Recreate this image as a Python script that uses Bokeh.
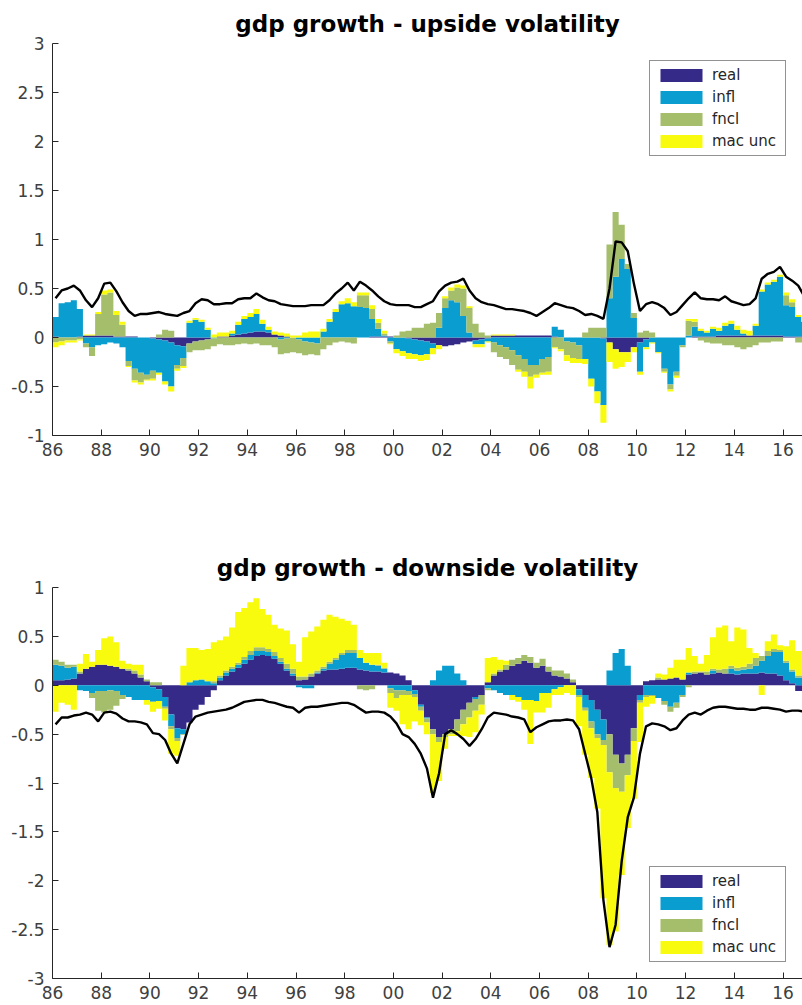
import numpy as np
from bokeh.plotting import figure
from bokeh.layouts import column
from bokeh.models import Range1d, FixedTicker, Legend, LegendItem
from bokeh.embed import file_html
from bokeh.resources import INLINE

# ---------------- data (quarterly, 1986Q1 .. 2016Q4) ----------------
start_year = 1986
n_years = 31

series_names = ["real", "infl", "fncl", "mac unc"]
series_colors = ["#352A87", "#0A9DCF", "#A5BE6B", "#F9FB0E"]

# upside volatility contributions: (real, infl, fncl, mac unc) per quarter
up_real = [0.01, 0.00, 0.00, 0.00,  0.01, 0.02, 0.02, 0.02,  0.02, 0.02, 0.01, 0.01,
           0.01, 0.01, 0.00, 0.00,  -0.01, -0.02, -0.03, -0.05,  -0.08, -0.09, -0.06, -0.04,
           -0.03, -0.02, 0.00, 0.01,  0.01, 0.02, 0.03, 0.04,  0.05, 0.06, 0.06, 0.05,
           0.03, 0.02, 0.01, 0.00,  0.00, 0.00, 0.00, 0.00,  0.00, 0.00, 0.00, 0.00,
           0.00, 0.00, 0.00, 0.00,  0.01, 0.01, 0.01, 0.01,  0.00, 0.00, -0.01, -0.02,
           -0.03, -0.04, -0.06, -0.08,  -0.09, -0.08, -0.07, -0.05,  -0.04, -0.03, -0.02, -0.01,
           0.02, 0.02, 0.02, 0.02,  0.02, 0.02, 0.02, 0.02,  0.02, 0.02, 0.01, 0.00,
           0.00, 0.00, 0.00, 0.00,  0.00, 0.00, -0.01, -0.05,  -0.12, -0.15, -0.15, -0.10,
           -0.05, -0.02, 0.00, 0.00,  0.00, 0.00, 0.00, 0.00,  0.00, 0.01, 0.01, 0.01,
           0.01, 0.02, 0.02, 0.02,  0.02, 0.02, 0.02, 0.02,  0.02, 0.02, 0.02, 0.02,
           0.01, 0.01, 0.01, 0.01]
up_infl = [0.20, 0.35, 0.36, 0.38,  0.28, -0.06, -0.10, -0.08,  -0.07, -0.05, -0.06, -0.10,
           -0.24, -0.32, -0.36, -0.38,  -0.33, -0.34, -0.42, -0.45,  -0.20, -0.12, 0.15, 0.18,
           0.16, 0.08, -0.01, 0.00,  0.00, 0.02, 0.10, 0.15,  0.16, 0.18, 0.08, 0.03,
           0.00, -0.02, -0.01, 0.00,  -0.02, -0.04, -0.05, -0.06,  0.06, 0.16, 0.26, 0.34,
           0.35, 0.32, 0.31, 0.30,  0.18, 0.08, 0.01, -0.04,  -0.12, -0.14, -0.15, -0.15,
           -0.15, -0.13, -0.05, 0.10,  0.30, 0.38, 0.36, 0.22,  0.05, -0.04, -0.05, -0.03,
           -0.05, -0.08, -0.10, -0.13,  -0.18, -0.22, -0.28, -0.28,  -0.22, -0.20, 0.10, 0.08,
           -0.04, -0.05, -0.08, -0.22,  -0.42, -0.55, -0.68, 0.40,  0.62, 0.80, 0.70, 0.20,
           -0.30, -0.08, -0.05, -0.15,  -0.32, -0.48, -0.35, -0.08,  0.02, 0.10, 0.06, 0.04,
           0.08, 0.05, 0.10, 0.12,  0.06, 0.02, 0.00, 0.10,  0.45, 0.52, 0.55, 0.60,
           0.32, 0.30, 0.20, 0.15]
up_fncl = [-0.05, -0.04, -0.03, -0.03,  -0.02, -0.04, -0.09, 0.22,  0.42, 0.44, 0.22, 0.12,
           -0.05, -0.12, -0.10, -0.05,  -0.08, 0.03, 0.08, 0.07,  -0.04, -0.08, -0.09, -0.09,
           -0.10, -0.10, -0.08, -0.07,  -0.08, -0.08, -0.07, -0.06,  -0.07, -0.06, -0.08, -0.08,
           -0.10, -0.15, -0.15, -0.15,  -0.14, -0.14, -0.12, -0.12,  -0.12, -0.08, -0.05, -0.04,
           -0.05, -0.06, 0.12, 0.13,  0.10, 0.06, 0.02, -0.02,  0.02, 0.06, 0.07, 0.10,
           0.10, 0.14, 0.15, 0.15,  0.10, 0.10, 0.15, 0.28,  0.25, 0.14, 0.05, 0.02,
           -0.10, -0.12, -0.12, -0.15,  -0.15, -0.13, -0.12, -0.10,  -0.14, -0.15, -0.10, -0.12,
           -0.14, -0.16, -0.14, 0.05,  0.10, 0.10, 0.10, 0.55,  0.66, 0.35, 0.05, 0.05,
           0.05, 0.07, 0.05, 0.00,  -0.03, -0.05, -0.04, -0.02,  0.15, 0.05, -0.03, -0.05,
           -0.06, -0.06, -0.08, -0.08,  -0.10, -0.12, -0.10, -0.08,  -0.05, -0.05, -0.04, -0.04,
           0.10, 0.05, -0.05, -0.05]
up_mac = [-0.05, -0.04, -0.02, -0.02,  -0.01, 0.01, 0.01, 0.02,  0.04, 0.03, 0.04, 0.03,
          -0.01, -0.02, -0.02, -0.01,  -0.02, -0.02, -0.03, -0.05,  -0.02, -0.02, 0.02, 0.02,
          0.02, 0.02, 0.03, 0.04,  0.04, 0.03, 0.03, 0.03,  0.04, 0.05, 0.04, 0.03,
          0.03, 0.03, 0.03, 0.02,  0.02, 0.05, 0.06, 0.06,  0.03, 0.03, 0.03, 0.03,
          0.05, 0.04, 0.03, 0.03,  0.04, 0.04, 0.03, -0.01,  -0.04, -0.05, -0.06, -0.05,
          -0.06, -0.06, -0.06, -0.04,  0.02, 0.03, 0.03, 0.03,  0.02, -0.03, -0.03, -0.01,
          0.01, 0.01, 0.01, 0.01,  -0.02, -0.05, -0.12, -0.03,  -0.02, -0.03, -0.01, -0.02,
          -0.06, -0.05, -0.04, -0.05,  -0.08, -0.12, -0.18, -0.20,  -0.20, -0.15, -0.10, -0.05,
          -0.03, -0.02, -0.01, -0.01,  -0.01, -0.02, -0.02, 0.00,  0.02, 0.03, 0.02, 0.02,
          0.02, 0.03, 0.03, 0.03,  0.04, 0.04, 0.05, 0.02,  0.02, 0.02, 0.02, 0.02,
          0.03, 0.03, 0.02, 0.02]
up_total = [0.40, 0.48, 0.50, 0.53,  0.48, 0.38, 0.31, 0.40,  0.55, 0.56, 0.47, 0.36,
            0.27, 0.22, 0.24, 0.24,  0.25, 0.26, 0.24, 0.23,  0.22, 0.25, 0.27, 0.35,
            0.39, 0.38, 0.34, 0.34,  0.35, 0.35, 0.39, 0.40,  0.40, 0.45, 0.41, 0.38,
            0.37, 0.34, 0.33, 0.32,  0.32, 0.32, 0.33, 0.33,  0.33, 0.38, 0.45, 0.50,
            0.56, 0.48, 0.57, 0.53,  0.48, 0.42, 0.37, 0.34,  0.33, 0.33, 0.33, 0.31,
            0.31, 0.34, 0.37, 0.47,  0.53, 0.56, 0.57, 0.60,  0.48, 0.40, 0.36, 0.34,
            0.33, 0.31, 0.29, 0.29,  0.28, 0.27, 0.25, 0.22,  0.26, 0.30, 0.35, 0.33,
            0.31, 0.30, 0.27, 0.23,  0.24, 0.22, 0.19, 0.50,  0.98, 0.97, 0.88, 0.55,
            0.27, 0.34, 0.36, 0.34,  0.30, 0.23, 0.26, 0.33,  0.40, 0.46, 0.40, 0.39,
            0.39, 0.38, 0.42, 0.37,  0.35, 0.33, 0.34, 0.40,  0.60, 0.65, 0.67, 0.72,
            0.62, 0.58, 0.53, 0.42]

# downside volatility contributions
dn_real = [0.05, 0.05, 0.06, 0.07,  0.12, 0.17, 0.19, 0.21,  0.21, 0.20, 0.19, 0.17,
           0.15, 0.12, 0.08, 0.04,  -0.02, -0.04, -0.12, -0.30,  -0.44, -0.45, -0.38, -0.25,
           -0.20, -0.12, -0.05, 0.05,  0.10, 0.14, 0.18, 0.22,  0.26, 0.30, 0.31, 0.30,
           0.27, 0.22, 0.15, 0.10,  0.05, 0.06, 0.09, 0.12,  0.15, 0.16, 0.16, 0.17,
           0.18, 0.18, 0.16, 0.15,  0.14, 0.14, 0.13, 0.13,  0.12, 0.10, 0.05, -0.05,
           -0.20, -0.33, -0.45, -0.53,  -0.50, -0.45, -0.35, -0.25,  -0.18, -0.12, -0.10, 0.03,
           0.10, 0.14, 0.16, 0.20,  0.22, 0.25, 0.23, 0.18,  0.20, 0.14, 0.10, 0.09,
           0.07, 0.03, -0.04, -0.10,  -0.15, -0.25, -0.35, -0.50,  -0.71, -0.80, -0.71, -0.44,
           -0.10, 0.04, 0.05, 0.06,  0.06, 0.07, 0.08, 0.06,  0.11, 0.12, 0.13, 0.11,
           0.12, 0.13, 0.12, 0.12,  0.11, 0.12, 0.12, 0.12,  0.13, 0.12, 0.12, 0.10,
           0.05, 0.02, -0.06, -0.06]
dn_infl = [0.16, 0.15, 0.12, 0.12,  -0.05, -0.06, -0.08, -0.06,  -0.06, -0.05, -0.06, -0.10,
           -0.12, -0.15, -0.15, -0.15,  -0.15, -0.12, -0.10, -0.12,  -0.10, -0.05, 0.03, 0.05,
           0.06, 0.04, 0.02, 0.03,  0.03, 0.03, 0.03, 0.04,  0.05, 0.05, 0.04, 0.04,
           0.03, 0.02, 0.02, 0.02,  -0.02, -0.03, -0.03, 0.01,  0.02, 0.06, 0.10, 0.14,
           0.15, 0.15, 0.12, 0.08,  0.07, 0.06, 0.04, -0.03,  -0.05, -0.05, -0.06, -0.04,
           -0.02, -0.01, 0.05, 0.15,  0.20, 0.20, 0.12, 0.05,  0.00, -0.02, 0.00, -0.03,
           -0.05, -0.08, -0.10, -0.10,  -0.12, -0.15, -0.15, -0.16,  -0.08, -0.08, -0.04, -0.02,
           0.00, 0.00, -0.06, -0.13,  -0.22, -0.25, -0.21, 0.15,  0.33, 0.37, 0.20, 0.00,
           -0.05, -0.10, -0.10, -0.13,  -0.16, -0.22, -0.18, -0.10,  0.02, 0.00, 0.00, 0.00,
           0.03, 0.00, 0.00, 0.05,  0.04, 0.04, 0.05, 0.08,  0.12, 0.18, 0.22, 0.24,
           0.18, 0.12, 0.08, 0.08]
dn_fncl = [0.05, 0.04, 0.03, 0.02,  0.02, 0.00, -0.05, -0.20,  -0.22, -0.20, -0.15, -0.04,
           0.02, 0.03, 0.03, 0.02,  0.03, 0.03, -0.02, -0.03,  -0.03, -0.01, 0.00, 0.00,
           0.00, 0.00, 0.02, 0.02,  0.02, 0.02, 0.02, 0.03,  0.04, 0.04, 0.04, 0.03,
           0.04, 0.04, 0.05, 0.05,  0.04, 0.03, 0.03, 0.02,  0.02, 0.02, 0.02, 0.02,
           0.03, 0.03, -0.04, -0.05,  -0.04, 0.01, 0.01, -0.05,  -0.08, -0.05, -0.04, -0.03,
           -0.04, -0.04, -0.05, -0.05,  -0.03, -0.05, -0.12, -0.15,  -0.15, -0.12, -0.10, -0.02,
           0.02, 0.02, 0.05, 0.06,  0.06, 0.06, 0.06, 0.05,  0.07, 0.05, 0.05, 0.06,
           0.05, 0.03, -0.02, -0.03,  -0.07, -0.04, -0.05, -0.39,  -0.34, -0.29, -0.21, -0.13,
           -0.03, -0.02, -0.01, 0.02,  -0.04, -0.05, -0.05, -0.02,  -0.02, 0.02, 0.01, 0.03,
           0.02, 0.03, 0.05, 0.03,  0.03, 0.03, 0.05, 0.08,  0.05, 0.05, 0.03, 0.02,
           0.02, 0.02, 0.02, 0.02]
dn_mac = [-0.27, -0.18, -0.20, -0.25,  0.08, 0.15, 0.05, 0.15,  0.27, 0.30, 0.25, 0.08,
          0.05, 0.06, 0.10, -0.05,  -0.10, -0.08, -0.12, -0.25,  -0.15, 0.20, 0.35, 0.33,
          0.30, 0.33, 0.40, 0.36,  0.35, 0.40, 0.52, 0.50,  0.50, 0.50, 0.39, 0.35,
          0.28, 0.30, 0.34, 0.25,  0.15, 0.40, 0.43, 0.45,  0.48, 0.48, 0.42, 0.35,
          0.30, 0.26, 0.08, 0.10,  0.12, 0.12, 0.05, -0.15,  -0.13, -0.30, -0.35, -0.25,
          -0.15, -0.12, -0.60, -0.40,  -0.12, -0.02, -0.05, -0.12,  -0.20, -0.22, -0.10, 0.25,
          0.17, 0.10, 0.04, -0.05,  -0.05, -0.10, -0.45, -0.12,  -0.20, -0.15, -0.06, -0.08,
          -0.08, -0.10, -0.30, -0.45,  -0.51, -0.72, -1.57, -1.77,  -1.47, -0.85, -0.54, -0.59,
          -0.40, -0.10, -0.08, 0.04,  0.05, 0.11, 0.18, 0.20,  0.25, 0.16, 0.08, 0.17,
          0.32, 0.43, 0.44, 0.25,  0.41, 0.38, 0.16, 0.05,  -0.10, 0.10, 0.15, 0.05,
          0.15, 0.30, 0.25, 0.25]
dn_total = [-0.40, -0.33, -0.33, -0.31,  -0.30, -0.28, -0.30, -0.37,  -0.28, -0.27, -0.29, -0.34,
            -0.37, -0.37, -0.38, -0.40,  -0.49, -0.50, -0.56, -0.70,  -0.80, -0.60, -0.40, -0.32,
            -0.30, -0.28, -0.27, -0.26,  -0.25, -0.23, -0.20, -0.17,  -0.16, -0.15, -0.15, -0.17,
            -0.18, -0.20, -0.22, -0.23,  -0.28, -0.23, -0.22, -0.22,  -0.21, -0.20, -0.19, -0.18,
            -0.18, -0.20, -0.24, -0.28,  -0.27, -0.27, -0.28, -0.32,  -0.39, -0.50, -0.53, -0.60,
            -0.70, -0.85, -1.15, -0.90,  -0.50, -0.46, -0.50, -0.55,  -0.62, -0.55, -0.45, -0.33,
            -0.28, -0.29, -0.30, -0.32,  -0.33, -0.35, -0.48, -0.43,  -0.40, -0.37, -0.36, -0.36,
            -0.35, -0.36, -0.45, -0.70,  -0.95, -1.30, -2.20, -2.68,  -2.45, -1.80, -1.35, -1.15,
            -0.70, -0.42, -0.39, -0.40,  -0.42, -0.46, -0.44, -0.36,  -0.30, -0.28, -0.30, -0.26,
            -0.23, -0.22, -0.22, -0.23,  -0.24, -0.24, -0.25, -0.25,  -0.23, -0.23, -0.24, -0.25,
            -0.27, -0.26, -0.26, -0.27]

x_ticks = [1986, 1988, 1990, 1992, 1994, 1996, 1998, 2000, 2002, 2004, 2006, 2008,
           2010, 2012, 2014, 2016]
x_tick_labels = ["86", "88", "90", "92", "94", "96", "98", "00", "02", "04", "06", "08",
                 "10", "12", "14", "16"]
up_y_ticks = [-1, -0.5, 0, 0.5, 1, 1.5, 2, 2.5, 3]
up_y_labels = ["-1", "-0.5", "0", "0.5", "1", "1.5", "2", "2.5", "3"]
dn_y_ticks = [-3, -2.5, -2, -1.5, -1, -0.5, 0, 0.5, 1]
dn_y_labels = ["-3", "-2.5", "-2", "-1.5", "-1", "-0.5", "0", "0.5", "1"]

# quarter start dates, plus the closing edge of the last quarter
n_q = 4 * n_years
xq_start = np.array([start_year + i / 4.0 for i in range(n_q)])
xq_mid = xq_start + 0.125
x_edges = np.append(xq_start, start_year + n_years)

FONT = "DejaVu Sans"
AX = "#262626"
TICK_TXT = "#404040"


def ext(a):
    return np.append(a, a[-1])


def make_panel(title, comps, total, yr, yticks, ylabels, height, b_top, b_bot, legend_loc):
    p = figure(width=802, height=height, output_backend="svg", toolbar_location=None,
               x_range=Range1d(1986, 2016.8), y_range=Range1d(*yr),
               min_border_left=52, min_border_right=0, min_border_top=b_top,
               min_border_bottom=b_bot)
    p.title.text = title
    p.title.align = "center"
    p.title.text_font = FONT
    p.title.text_font_size = "23px"
    p.title.text_font_style = "bold"
    p.title.text_color = "#000000"
    p.title.standoff = 13
    p.outline_line_color = None
    p.grid.visible = False
    p.background_fill_color = "white"
    p.border_fill_color = "white"

    pos_base = np.zeros(n_q)
    neg_base = np.zeros(n_q)
    items = []
    for name, col, vals in zip(series_names, series_colors, comps):
        v = np.asarray(vals, dtype=float)
        pv = np.where(v > 0, v, 0.0)
        nv = np.where(v < 0, v, 0.0)
        r1 = p.varea_step(x=x_edges, y1=ext(pos_base), y2=ext(pos_base + pv),
                          step_mode="after", fill_color=col)
        r2 = p.varea_step(x=x_edges, y1=ext(neg_base), y2=ext(neg_base + nv),
                          step_mode="after", fill_color=col)
        items.append(LegendItem(label=name, renderers=[r1, r2]))
        pos_base = pos_base + pv
        neg_base = neg_base + nv

    p.line(xq_mid, total, line_color="black", line_width=2.4)

    for ax in (p.xaxis[0], p.yaxis[0]):
        ax.axis_line_color = AX
        ax.axis_line_width = 1
        ax.major_tick_line_color = AX
        ax.major_tick_in = 6
        ax.major_tick_out = 0
        ax.minor_tick_line_color = None
        ax.major_label_text_font = FONT
        ax.major_label_text_font_size = "17px"
        ax.major_label_text_color = TICK_TXT
    p.xaxis.ticker = FixedTicker(ticks=x_ticks)
    p.xaxis.major_label_overrides = dict(zip(x_ticks, x_tick_labels))
    p.xaxis.major_label_standoff = 7
    p.yaxis.ticker = FixedTicker(ticks=yticks)
    p.yaxis.major_label_overrides = dict(zip(yticks, ylabels))
    p.yaxis.major_label_standoff = 8

    leg = Legend(items=items, location=legend_loc)
    leg.border_line_color = AX
    leg.border_line_width = 1
    leg.background_fill_color = "white"
    leg.background_fill_alpha = 1
    leg.padding = 5
    leg.margin = 0
    leg.spacing = 4
    leg.glyph_width = 52
    leg.glyph_height = 16
    leg.label_height = 16
    leg.label_width = 68
    leg.label_standoff = 5
    leg.label_text_font = FONT
    leg.label_text_font_size = "15px"
    leg.label_text_color = AX
    p.add_layout(leg, "center")
    return p


p1 = make_panel("gdp growth - upside volatility",
                [up_real, up_infl, up_fncl, up_mac], up_total,
                (-1, 3), up_y_ticks, up_y_labels, 500, 43, 65, (597, 279))
p2 = make_panel("gdp growth - downside volatility",
                [dn_real, dn_infl, dn_fncl, dn_mac], dn_total,
                (-3, 1), dn_y_ticks, dn_y_labels, 505, 87, 27, (597, 16))

layout = column(p1, p2)
open("out.html", "w").write(file_html(layout, INLINE))
